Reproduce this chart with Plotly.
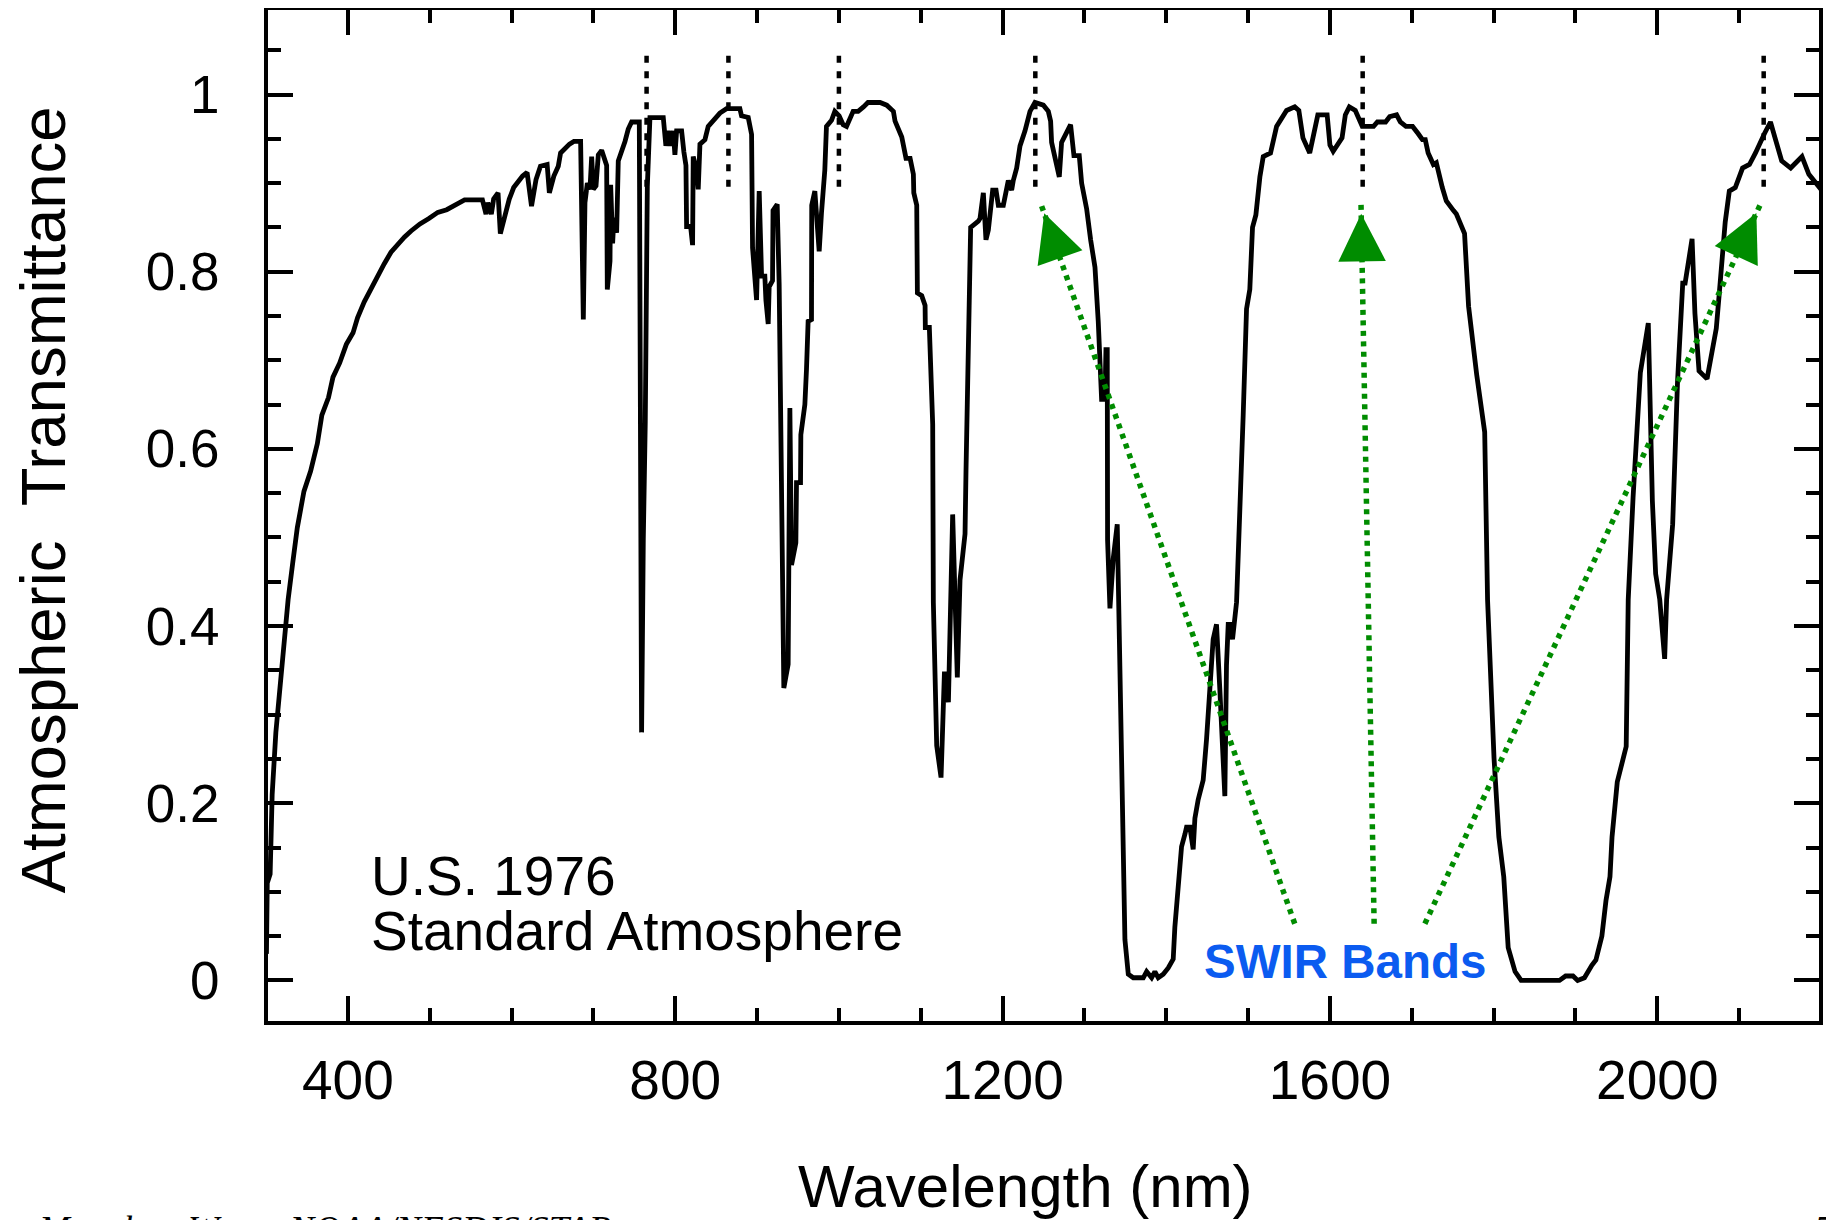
import plotly.graph_objects as go

# spectrum (nm, transmittance)
wavelength = [
    300.5, 301.5, 305, 307.5, 312, 314, 317.5, 320, 323, 327, 332.7, 338.2, 346.3, 354.5,
    362.7, 368.2, 376.3, 381.8, 390, 398.1, 406.3, 411.8, 420, 428.1, 436.3, 444.5, 452.7,
    460.8, 469, 477.2, 488.1, 499, 509.9, 520.8, 531.7, 542.6, 564.4, 568.8, 571, 575.3,
    578.1, 583.5, 586.3, 591.7, 597.2, 602.6, 608.1, 613.5, 619, 624.4, 629.9, 635.3, 643.5,
    646.2, 651.7, 657.1, 659.9, 665.3, 670.8, 676.2, 684.4,
    687.7, 689.7, 692.6, 695.8, 697.9, 699.9, 703.2, 706, 710.1, 714.2, 716.2, 717, 720.3,
    721.1, 723.5, 725.1, 728.4, 730.4, 734.5, 738.6, 742.6, 746.7, 756.1, 758.9, 761, 763.4,
    765.9, 769.1, 785.4, 788.6, 791.5, 794.3, 797.6, 799.6, 801.7, 807.8, 810.6, 813.1,
    813.9, 818.8, 821.2, 822, 826.1, 828.1, 830.2, 836.3, 840.3, 846.4, 854.6, 862.7, 879,
    881, 889.2, 893.3, 894.5, 899.4, 902.6, 905.5, 909.5, 910.8, 913.6, 914.8, 918.9, 919.5,
    924.6, 927, 928.7, 931.1, 932.7, 938, 940.1, 942.1, 947.4, 948.2, 953.1, 953.5, 958.4,
    960.4, 962.4, 966.5, 966.8, 970.6, 972.6, 975.9, 978.7, 982.8, 984.8, 991, 995, 1000.3,
    1005.2, 1009.3, 1017.4, 1023.5, 1030, 1035.5, 1050.3,
    1058.4, 1066.6, 1068.6, 1076.8, 1080.8, 1082, 1087, 1091, 1091.5, 1095.1, 1095.9, 1101.2,
    1105.3, 1105.6, 1110.5, 1114.6, 1115.4, 1117.5, 1119.5, 1124.8, 1128.9, 1131.7, 1133.8,
    1139, 1144.7, 1148, 1154.1, 1155.3, 1158.2, 1161, 1170.4, 1172.4, 1176.5, 1179.7, 1182.6,
    1184.6, 1187.9, 1192, 1194.8, 1200.9, 1207, 1211.1, 1213.1, 1217.2, 1221.3, 1227.4,
    1233.5, 1239.6, 1249.8, 1255.9, 1258.7, 1259.9, 1264, 1269.3, 1272.1, 1278.3, 1283.1,
    1287.2, 1293.7, 1296.6, 1302.7, 1307.6, 1312.9, 1316.9, 1319.8, 1321, 1325.1, 1326.3,
    1327.9, 1328.3, 1331.2, 1335.2, 1340.1, 1342.6, 1345.4, 1349.5, 1353.6, 1359.7, 1371.9,
    1376, 1382.1, 1386.1, 1390.2, 1396.3, 1402.4, 1408.5, 1410.5, 1414.6, 1418.7, 1422.8,
    1424.8, 1428.9, 1432.9, 1435, 1439, 1445.1, 1449.2, 1457.3, 1461.4, 1465.5, 1471.6,
    1473.6, 1475.7, 1477.7, 1481, 1485.9, 1490, 1494, 1498.1, 1502.1, 1505.4, 1509.5, 1514.4,
    1518.5, 1527.4, 1534.8, 1547, 1557, 1562, 1567, 1575.3, 1579, 1585.2, 1596.6, 1600, 1604,
    1614.8, 1618.8, 1623.7, 1631, 1636, 1639.5, 1653.3, 1658, 1668, 1673, 1681.5, 1686,
    1692.9, 1701, 1707.7, 1713, 1716.5, 1720, 1726.4, 1730, 1737.3, 1742.2, 1751, 1754.5,
    1764.5, 1769.4, 1779.3, 1789.1, 1792.6, 1794, 1800.5, 1806.4, 1812.4, 1817.8, 1826.2,
    1833.6, 1880.5, 1888, 1897, 1902.7, 1911, 1920, 1925, 1932.3, 1937.3, 1942.2, 1944.7,
    1951.1, 1962, 1964.5, 1966, 1970.4, 1979.3, 1989, 1994, 1998, 2003, 2009, 2011.4, 2018.8,
    2024.7, 2031.1, 2034, 2042.5, 2046, 2051, 2060.8, 2072.1, 2075.6, 2083, 2088, 2095.3,
    2104.2, 2112.6, 2120, 2127.4, 2131, 2138.3, 2144.7, 2152, 2163, 2176.8, 2185.2, 2200,
]
transmittance = [
    0.03, 0.11, 0.12, 0.21, 0.28, 0.30, 0.34, 0.36, 0.39, 0.43, 0.472, 0.511, 0.552, 0.575,
    0.606, 0.638, 0.658, 0.681, 0.697, 0.718, 0.731, 0.748, 0.766, 0.781, 0.796, 0.809, 0.822,
    0.831, 0.839, 0.846, 0.854, 0.86, 0.867, 0.87, 0.876, 0.881, 0.881, 0.865, 0.878, 0.865,
    0.882, 0.889, 0.843, 0.865, 0.882, 0.895, 0.902, 0.908, 0.912, 0.874, 0.904, 0.919, 0.921,
    0.889, 0.908, 0.919, 0.934, 0.939, 0.944, 0.947, 0.947,
    0.746, 0.878, 0.90, 0.893, 0.93, 0.893, 0.897, 0.932, 0.937, 0.925, 0.92, 0.78, 0.812,
    0.898, 0.832, 0.861, 0.844, 0.925, 0.935, 0.947, 0.961, 0.969, 0.969, 0.28, 0.499, 0.63,
    0.896, 0.974, 0.974, 0.942, 0.959, 0.942, 0.959, 0.932, 0.959, 0.959, 0.935, 0.92,
    0.851, 0.851, 0.83, 0.93, 0.915, 0.893, 0.944, 0.949, 0.964, 0.971, 0.979, 0.984, 0.984,
    0.976, 0.974, 0.955, 0.827, 0.768, 0.891, 0.795, 0.795, 0.768, 0.741, 0.783, 0.79, 0.869,
    0.876, 0.786, 0.65, 0.474, 0.33, 0.357, 0.646, 0.469, 0.494, 0.562, 0.562, 0.616, 0.65,
    0.69, 0.744, 0.746, 0.875, 0.891, 0.856, 0.823, 0.866, 0.915, 0.964, 0.971, 0.981, 0.976,
    0.966, 0.964, 0.981, 0.981, 0.986, 0.991, 0.991,
    0.988, 0.981, 0.97, 0.952, 0.935, 0.928, 0.928, 0.91, 0.889, 0.875, 0.776, 0.773,
    0.762, 0.737, 0.737, 0.628, 0.427, 0.342, 0.265, 0.229, 0.346, 0.346, 0.314,
    0.526, 0.342, 0.452, 0.504, 0.575, 0.737, 0.85, 0.857, 0.86, 0.889, 0.836, 0.847,
    0.87, 0.892, 0.892, 0.875, 0.875, 0.903, 0.892, 0.903, 0.917, 0.942, 0.959,
    0.981, 0.991, 0.988, 0.981, 0.97, 0.946, 0.928, 0.907, 0.946, 0.959, 0.966,
    0.931, 0.931, 0.9, 0.871, 0.836, 0.805, 0.744, 0.688, 0.656, 0.656, 0.712,
    0.712, 0.497, 0.42, 0.476, 0.515, 0.405, 0.222, 0.046, 0.007, 0.003, 0.003,
    0.01, 0.003, 0.01, 0.003, 0.007, 0.014, 0.024, 0.06, 0.102, 0.151, 0.165,
    0.173, 0.173, 0.148, 0.183, 0.204, 0.226, 0.272, 0.385, 0.402, 0.328, 0.208,
    0.356, 0.402, 0.402, 0.385, 0.427, 0.526, 0.638, 0.758, 0.78, 0.85, 0.864, 0.907,
    0.93, 0.934, 0.964, 0.982, 0.986, 0.982, 0.951, 0.934, 0.95, 0.977, 0.977, 0.943, 0.936,
    0.951, 0.977, 0.986, 0.982, 0.973, 0.964, 0.964, 0.969, 0.969, 0.975, 0.977, 0.969,
    0.964, 0.964, 0.956, 0.949, 0.949, 0.934, 0.921, 0.923, 0.895, 0.88, 0.869, 0.865,
    0.843, 0.761, 0.684, 0.619, 0.43, 0.40, 0.251, 0.162, 0.117, 0.037, 0.01,
    0.0, 0.0, 0.005, 0.005, 0.0, 0.003, 0.017, 0.023, 0.05, 0.09, 0.117, 0.162,
    0.224, 0.264, 0.43, 0.46, 0.545, 0.686, 0.742, 0.541, 0.459, 0.43, 0.363, 0.43, 0.515,
    0.675, 0.787, 0.787, 0.837, 0.753, 0.688, 0.679, 0.736, 0.774, 0.856, 0.891, 0.895,
    0.917, 0.921, 0.934, 0.951, 0.956, 0.969, 0.947, 0.925, 0.917, 0.93, 0.91, 0.893,
]

# dashed markers above the band centres
band_centres = [765, 865, 1000, 1240, 1640, 2130]
band_mark_y = [0.896, 1.046]

# green dotted arrows (tail near the label, tip under the band marks)
arrow_tail_x = [1557, 1654, 1716]
arrow_tail_y = [0.064, 0.064, 0.064]
arrow_tip_x = [1247, 1638, 2126]
arrow_tip_y = [0.876, 0.876, 0.876]

x_range = [302.4, 2197.6]
y_range = [-0.0458, 1.0954]

W, H = 1834, 1220
OFF = 8  # page body margin, the figure is drawn 8px in from the window corner
L, R, T, B = 259.6, 22.5, 2.4, 207
PW, PH = W - L - R, H - T - B

GREEN = "#008c00"
BLUE = "#0b5bf0"
FONT = "Liberation Sans, Arial, Helvetica, sans-serif"
SERIF = "Liberation Serif, Times New Roman, serif"


def px_x(px):
    # window pixel -> paper fraction
    return (px - OFF - L) / PW


def px_y(py):
    return (H - B - (py - OFF)) / PH


fig = go.Figure()

fig.add_trace(go.Scatter(
    x=wavelength, y=transmittance, mode="lines",
    line=dict(color="black", width=4.8), hoverinfo="skip",
))

bx, by = [], []
for c in band_centres:
    bx += [c, c, None]
    by += [band_mark_y[0], band_mark_y[1], None]
fig.add_trace(go.Scatter(
    x=bx, y=by, mode="lines",
    line=dict(color="black", width=4.5, dash="7px,8.5px"), hoverinfo="skip",
))

sx = PW / (x_range[1] - x_range[0])
sy = PH / (y_range[1] - y_range[0])
head_scale = 4 * 2.375
for x0, y0, x1, y1 in zip(arrow_tail_x, arrow_tail_y, arrow_tip_x, arrow_tip_y):
    fig.add_trace(go.Scatter(
        x=[x0, x1], y=[y0, y1], mode="lines",
        line=dict(color=GREEN, width=5.5, dash="5px,5.5px"), hoverinfo="skip",
    ))
    dx, dy = (x1 - x0) * sx, -(y1 - y0) * sy
    n = (dx ** 2 + dy ** 2) ** 0.5
    fig.add_annotation(
        x=x1, y=y1, xref="x", yref="y", text="",
        showarrow=True, arrowhead=2, arrowsize=2.375, arrowwidth=4,
        standoff=head_scale, arrowcolor=GREEN,
        ax=-dx / n * 30, ay=-dy / n * 30,
    )

fig.add_annotation(
    x=px_x(42), y=px_y(500), xref="paper", yref="paper",
    text="Atmospheric  Transmittance", textangle=-90, showarrow=False,
    font=dict(size=63.5, family=FONT, color="black"),
    xanchor="center", yanchor="middle",
)
fig.add_annotation(
    x=px_x(1026), y=px_y(1186), xref="paper", yref="paper",
    text="Wavelength (nm)", showarrow=False,
    font=dict(size=60, family=FONT, color="black"),
    xanchor="center", yanchor="middle",
)
fig.add_annotation(
    x=px_x(369), y=px_y(876), xref="paper", yref="paper",
    text="U.S. 1976", showarrow=False,
    font=dict(size=55, family=FONT, color="black"),
    xanchor="left", yanchor="middle",
)
fig.add_annotation(
    x=px_x(369), y=px_y(931), xref="paper", yref="paper",
    text="Standard Atmosphere", showarrow=False,
    font=dict(size=55, family=FONT, color="black"),
    xanchor="left", yanchor="middle",
)
fig.add_annotation(
    x=px_x(1345), y=px_y(962), xref="paper", yref="paper",
    text="<b>SWIR Bands</b>", showarrow=False,
    font=dict(size=47.5, family=FONT, color=BLUE),
    xanchor="center", yanchor="middle",
)
fig.add_annotation(
    x=px_x(35), y=px_y(1229.5), xref="paper", yref="paper",
    text="Menghua Wang, NOAA/NESDIS/STAR", showarrow=False,
    font=dict(size=37, family=SERIF, color="black", style="italic"),
    xanchor="left", yanchor="middle",
)
fig.add_annotation(
    x=px_x(1812), y=px_y(1229.5), xref="paper", yref="paper",
    text="5", showarrow=False,
    font=dict(size=37, family=SERIF, color="black", style="italic"),
    xanchor="left", yanchor="middle",
)

axis_common = dict(
    showline=True, linewidth=4, linecolor="black", mirror="ticks",
    ticks="inside", ticklen=25, tickwidth=3.5, tickcolor="black",
    showgrid=False, zeroline=False,
)
fig.update_xaxes(
    range=x_range, tickmode="linear", tick0=0, dtick=400,
    tickfont=dict(size=55, family=FONT, color="black"), ticklabelstandoff=8,
    minor=dict(tickmode="linear", tick0=0, dtick=100, ticks="inside", ticklen=13,
               tickwidth=3.5, tickcolor="black", showgrid=False),
    **axis_common,
)
fig.update_yaxes(
    range=y_range, tickmode="linear", tick0=0, dtick=0.2,
    tickfont=dict(size=53, family=FONT, color="black"), ticklabelstandoff=34,
    minor=dict(tickmode="linear", tick0=0, dtick=0.05, ticks="inside", ticklen=13,
               tickwidth=3.5, tickcolor="black", showgrid=False),
    **axis_common,
)

fig.update_layout(
    width=W, height=H,
    margin=dict(l=L, r=R, t=T, b=B, pad=0, autoexpand=False),
    paper_bgcolor="white", plot_bgcolor="white",
    showlegend=False,
    font=dict(family=FONT, color="black"),
)

fig.write_html("out.html")
